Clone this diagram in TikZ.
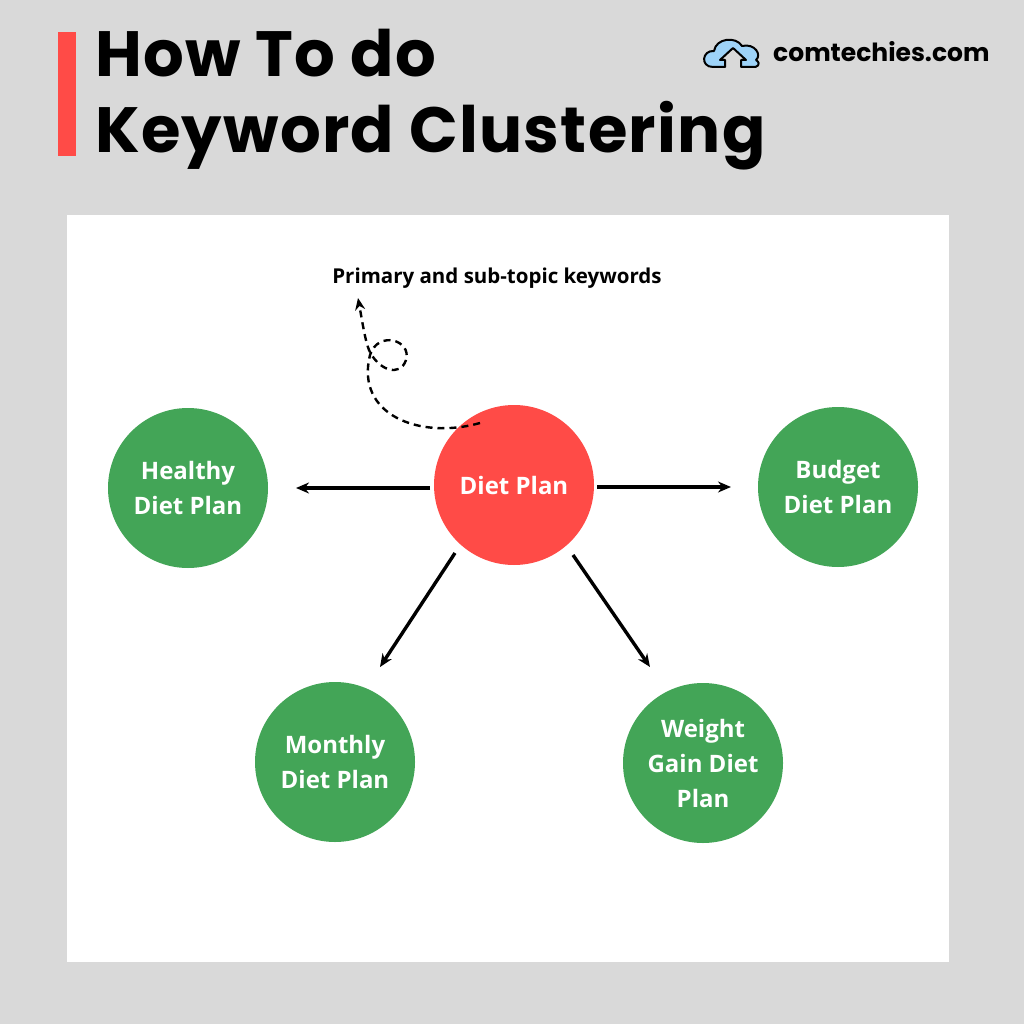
\documentclass[tikz,border=0pt]{standalone}
\usepackage{fontspec}
\setmainfont{Open Sans}
\newfontfamily\titlefont[LetterSpace=2]{Poppins}
\newfontfamily\logofont{Poppins}
\usetikzlibrary{arrows.meta}
\definecolor{bg}{HTML}{D9D9D9}
\definecolor{gr}{HTML}{43A557}
\definecolor{rd}{HTML}{FF4B47}
\definecolor{cl}{HTML}{9ED3F8}
\tikzset{
 leaf/.style={circle,fill=gr,minimum size=160pt,inner sep=0pt,text=white,align=center,font=\fontsize{24}{35}\selectfont\bfseries},
 arr/.style={-{Stealth[length=13pt,width=11pt]},line width=3.4pt}
}
\begin{document}
\begin{tikzpicture}[x=1pt,y=-1pt]
\fill[bg] (0,0) rectangle (1024,1024);
\useasboundingbox (0,0) rectangle (1024,1024);
\fill[rd] (58,32) rectangle (76,156);
\node[anchor=base west,inner sep=0,font=\titlefont\fontsize{64}{70}\selectfont\bfseries] (t1) at (95,77) {How To do};
\node[anchor=base west,inner sep=0,font=\titlefont\fontsize{64}{70}\selectfont\bfseries] (t2) at (95,153) {Keyword Clustering};
% logo
\draw[line width=2pt,fill=cl,line join=round] (713,67) .. controls (700,67) and (702,50) .. (714,51) .. controls (716,38) and (736,36) .. (742,46) .. controls (755,43) and (762,55) .. (756,60) .. controls (762,64) and (757,68) .. (752,67) -- (741,67) -- (741,60) -- (746,60) -- (733,48) -- (720,60) -- (725,60) -- (725,67) -- cycle;
\node[anchor=base west,inner sep=0,font=\logofont\fontsize{25}{28}\selectfont\bfseries] (logo) at (773,62) {comtechies.com};
\fill[white] (67,215) rectangle (949,962);
\node[font=\fontsize{20.5}{24}\selectfont\bfseries,inner sep=0] (lab) at (497,278) {Primary and sub-topic keywords};
\node[leaf,fill=rd] (c) at (514,485) {Diet Plan};
\node[leaf] (h) at (188,488) {Healthy\\Diet Plan};
\node[leaf] (b) at (838,487) {Budget\\Diet Plan};
\node[leaf] (m) at (335,762) {Monthly\\Diet Plan};
\node[leaf] (w) at (703,763) {Weight\\Gain Diet\\Plan};
\coordinate (a1s) at (430,488); \coordinate (a1e) at (296,488);
\coordinate (a2s) at (597,487); \coordinate (a2e) at (731,487);
\coordinate (a3s) at (455,553); \coordinate (a3e) at (380,667);
\coordinate (a4s) at (573,555); \coordinate (a4e) at (650,667);
\draw[arr] (a1s) -- (a1e);
\draw[arr] (a2s) -- (a2e);
\draw[arr] (a3s) -- (a3e);
\draw[arr] (a4s) -- (a4e);
\coordinate (ls) at (480,423); \coordinate (le) at (358,298);
\draw[dash pattern=on 7pt off 5pt,line width=2.4pt,-{Stealth[length=12pt,width=10pt]}] (ls) .. controls (420,440) and (355,415) .. (370,355) .. controls (378,330) and (412,340) .. (406,360) .. controls (400,378) and (378,370) .. (369,350) .. controls (365,340) and (362,320) .. (le);
\end{tikzpicture}
\end{document}
